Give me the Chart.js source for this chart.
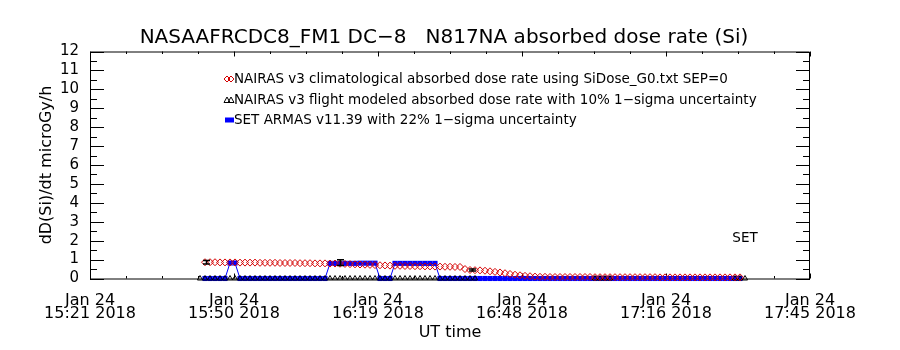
<!DOCTYPE html>
<html>
<head>
<meta charset="utf-8">
<script src="https://cdn.jsdelivr.net/npm/chart.js@4/dist/chart.umd.min.js"></script>
<style>
  body { margin: 0; background: #fff; }
</style>
</head>
<body>
<canvas id="doseChart" width="900" height="350"></canvas>
<script>
// DATA (x in minutes after 15:21 UT, Jan 24 2018)
const xTickMinutes = [0, 28.8, 57.6, 86.4, 115.2, 144];
const xTickDates = ["Jan 24", "Jan 24", "Jan 24", "Jan 24", "Jan 24", "Jan 24"];
const xTickTimes = ["15:21 2018", "15:50 2018", "16:19 2018", "16:48 2018", "17:16 2018", "17:45 2018"];

const sampleMinutes = [
    23, 24, 25, 26, 27, 28, 29,
    30, 31, 32, 33, 34, 35, 36, 37, 38, 39,
    40, 41, 42, 43, 44, 45, 46, 47, 48, 49,
    50, 51, 52, 53, 54, 55, 56, 57, 58, 59,
    60, 61, 62, 63, 64, 65, 66, 67, 68, 69,
    70, 71, 72, 73, 74, 75, 76, 77, 78, 79,
    80, 81, 82, 83, 84, 85, 86, 87, 88, 89,
    90, 91, 92, 93, 94, 95, 96, 97, 98, 99,
    100, 101, 102, 103, 104, 105, 106, 107, 108, 109,
    110, 111, 112, 113, 114, 115, 116, 117, 118, 119,
    120, 121, 122, 123, 124, 125, 126, 127, 128, 129, 130
];

// NAIRAS v3 climatological
const nairasClimDose = [
    0.86, 0.86, 0.86, 0.85, 0.85, 0.85, 0.85,
    0.84, 0.84, 0.84, 0.84, 0.83, 0.83, 0.83, 0.83, 0.82, 0.82,
    0.82, 0.82, 0.81, 0.81, 0.81, 0.80, 0.80, 0.80, 0.79, 0.79,
    0.78, 0.77, 0.76, 0.75, 0.74, 0.73, 0.72, 0.71, 0.70, 0.69,
    0.68, 0.67, 0.67, 0.66, 0.66, 0.65, 0.65, 0.64, 0.64, 0.63,
    0.63, 0.62, 0.62, 0.61, 0.61, 0.50, 0.45, 0.44, 0.43, 0.41,
    0.38, 0.35, 0.32, 0.28, 0.24, 0.20, 0.17, 0.14, 0.12, 0.10,
    0.09, 0.09, 0.08, 0.08, 0.08, 0.08, 0.08, 0.08, 0.08, 0.08,
    0.08, 0.07, 0.07, 0.07, 0.07, 0.07, 0.07, 0.07, 0.07, 0.07,
    0.07, 0.07, 0.07, 0.07, 0.06, 0.06, 0.06, 0.06, 0.06, 0.06,
    0.06, 0.06, 0.06, 0.06, 0.06, 0.06, 0.06, 0.06, 0.06, 0.06, 0.06
];

// SET ARMAS v11.39
const armasDose = [
    0, 0, 0, 0, 0, 0.82, 0.82,
    0, 0, 0, 0, 0, 0, 0, 0, 0, 0,
    0, 0, 0, 0, 0, 0, 0, 0, 0.80, 0.80,
    0.80, 0.80, 0.80, 0.80, 0.81, 0.81, 0.81, 0.81, 0, 0,
    0, 0.80, 0.80, 0.80, 0.80, 0.80, 0.80, 0.80, 0.80, 0.80,
    0, 0, 0, 0, 0, 0, 0, 0, 0, 0,
    0, 0, 0, 0, 0, 0, 0, 0, 0, 0,
    0, 0, 0, 0, 0, 0, 0, 0, 0, 0,
    0, 0, 0, 0, 0, 0, 0, 0, 0, 0,
    0, 0, 0, 0, 0, 0, 0, 0, 0, 0,
    0, 0, 0, 0, 0, 0, 0, 0, 0, 0, 0
];

// NAIRAS v3 flight modeled
const flightMinutes = [
    22, 23, 24, 25, 26, 27, 28, 29, 30, 31, 32, 33, 34, 35, 36, 37, 38, 39,
    40, 41, 42, 43, 44, 45, 46, 47, 48, 49, 50, 51, 52, 53, 54, 55, 56, 57,
    58, 59, 60, 61, 62, 63, 64, 65, 66, 67, 68, 69, 70, 71, 72, 73, 74, 75,
    76, 77, 101, 102, 103, 104, 129, 130, 131
];
const flightDose = [
    0, 0, 0, 0, 0, 0, 0, 0, 0, 0, 0, 0, 0, 0, 0, 0, 0, 0,
    0, 0, 0, 0, 0, 0, 0, 0, 0, 0, 0, 0, 0, 0, 0, 0, 0, 0,
    0, 0, 0, 0, 0, 0, 0, 0, 0, 0, 0, 0, 0, 0, 0, 0, 0, 0,
    0, 0, 0, 0, 0, 0, 0, 0, 0
];
const flightErrMinutes = [23.2, 50, 76.4];
const flightErrDose = [0.86, 0.84, 0.45];
const flightErrSigma = [0.09, 0.15, 0.05];

const chartTitle = "NASAAFRCDC8_FM1 DC\u22128   N817NA absorbed dose rate (Si)";
const legendLabels = [
    "NAIRAS v3 climatological absorbed dose rate using SiDose_G0.txt SEP=0",
    "NAIRAS v3 flight modeled absorbed dose rate with 10% 1\u2212sigma uncertainty",
    "SET ARMAS v11.39 with 22% 1\u2212sigma uncertainty"
];

const FONT = "'DejaVu Sans', sans-serif";

function toPoints(xs, ys) {
    return xs.map((x, i) => ({ x: x, y: ys[i] }));
}

// AXIS BOX WITH INWARD TICKS
const frameTicks = {
    id: "frameTicks",
    beforeDatasetsDraw(chart) {
        const { ctx, chartArea: a, scales: { x, y } } = chart;
        ctx.save();
        ctx.strokeStyle = "#000";
        ctx.lineWidth = 1;
        ctx.beginPath();
        ctx.rect(a.left + 0.5, a.top + 0.5, a.width - 1, a.height);

        for (let v = 0; v <= 12; v += 0.5) {
            const py = Math.round(y.getPixelForValue(v)) + 0.5;
            const len = v % 1 === 0 ? 14 : 7;
            ctx.moveTo(a.left, py);
            ctx.lineTo(a.left + len, py);
            ctx.moveTo(a.right, py);
            ctx.lineTo(a.right - len, py);
        }

        const step = (xTickMinutes[1] - xTickMinutes[0]) / 4;
        xTickMinutes.forEach((m, i) => {
            for (let k = 0; k < 4; k++) {
                if (k > 0 && i === xTickMinutes.length - 1) break;
                const px = Math.round(x.getPixelForValue(m + k * step)) + 0.5;
                const len = k === 0 ? 5 : 2.5;
                ctx.moveTo(px, a.bottom);
                ctx.lineTo(px, a.bottom - len);
                ctx.moveTo(px, a.top);
                ctx.lineTo(px, a.top + len);
            }
        });
        ctx.stroke();
        ctx.restore();
    }
};

// TITLE, ERROR BARS, LEGEND AND "SET" LABEL
const overlay = {
    id: "overlay",
    afterDatasetsDraw(chart) {
        const { ctx, scales: { x, y } } = chart;
        ctx.save();
        ctx.strokeStyle = "#000";
        ctx.lineWidth = 1.5;
        ctx.beginPath();
        flightErrMinutes.forEach((m, i) => {
            const px = Math.round(x.getPixelForValue(m)) + 0.5;
            const yHi = y.getPixelForValue(flightErrDose[i] + flightErrSigma[i]);
            const yLo = y.getPixelForValue(flightErrDose[i] - flightErrSigma[i]);
            ctx.moveTo(px, yHi);
            ctx.lineTo(px, yLo);
            ctx.moveTo(px - 3.5, yHi);
            ctx.lineTo(px + 3.5, yHi);
            ctx.moveTo(px - 3.5, yLo);
            ctx.lineTo(px + 3.5, yLo);
        });
        ctx.stroke();
        ctx.restore();
    },
    afterDraw(chart) {
        const ctx = chart.ctx;
        const rowsY = [79, 100, 120];
        const textX = 234;

        ctx.save();

        ctx.fillStyle = "#000";
        ctx.font = "20px " + FONT;
        ctx.textAlign = "center";
        ctx.textBaseline = "middle";
        ctx.fillText(chartTitle, 444, 38);

        ctx.lineWidth = 1;

        // diamonds
        ctx.strokeStyle = "#d40000";
        [227, 231].forEach((cx) => {
            ctx.beginPath();
            ctx.moveTo(cx, rowsY[0] - 3);
            ctx.lineTo(cx + 3, rowsY[0]);
            ctx.lineTo(cx, rowsY[0] + 3);
            ctx.lineTo(cx - 3, rowsY[0]);
            ctx.closePath();
            ctx.stroke();
        });

        // triangles
        ctx.strokeStyle = "#000";
        [227, 231].forEach((cx) => {
            ctx.beginPath();
            ctx.moveTo(cx, rowsY[1] - 3);
            ctx.lineTo(cx + 3, rowsY[1] + 2.5);
            ctx.lineTo(cx - 3, rowsY[1] + 2.5);
            ctx.closePath();
            ctx.stroke();
        });

        // blue block
        ctx.fillStyle = "#0000ff";
        ctx.fillRect(225, rowsY[2] - 2.5, 9, 5);

        ctx.fillStyle = "#000";
        ctx.font = "13.5px " + FONT;
        ctx.textAlign = "left";
        legendLabels.forEach((label, i) => {
            ctx.fillText(label, textX, rowsY[i]);
        });

        ctx.textAlign = "center";
        ctx.fillText("SET", 745, 238);
        ctx.restore();
    }
};

new Chart(document.getElementById("doseChart"), {
    type: "scatter",
    data: {
        datasets: [
            {
                label: legendLabels[0],
                data: toPoints(sampleMinutes, nairasClimDose),
                showLine: false,
                pointStyle: "rectRot",
                pointRadius: 3.5,
                pointBorderColor: "#d40000",
                pointBackgroundColor: "rgba(0,0,0,0)",
                pointBorderWidth: 1,
                order: 0,
                clip: false
            },
            {
                label: legendLabels[1],
                data: toPoints(flightMinutes, flightDose),
                showLine: false,
                pointStyle: "triangle",
                pointRadius: 3,
                pointBorderColor: "#000",
                pointBackgroundColor: "rgba(0,0,0,0)",
                pointBorderWidth: 1,
                order: 1,
                clip: false
            },
            {
                label: legendLabels[2],
                data: toPoints(sampleMinutes, armasDose),
                showLine: true,
                borderColor: "#0000ff",
                borderWidth: 1,
                tension: 0,
                pointStyle: "rect",
                pointRadius: 3.6,
                pointBorderWidth: 0,
                pointBackgroundColor: "#0000ff",
                pointBorderColor: "#0000ff",
                order: 2,
                clip: false
            }
        ]
    },
    options: {
        responsive: false,
        animation: false,
        devicePixelRatio: 1,
        layout: {
            padding: { left: 0, right: 90, top: 51.5, bottom: 0 }
        },
        plugins: {
            legend: { display: false },
            tooltip: { enabled: false },
            title: { display: false }
        },
        scales: {
            x: {
                type: "linear",
                min: 0,
                max: 144,
                grid: { display: false },
                border: { display: false },
                afterBuildTicks: (scale) => {
                    scale.ticks = xTickMinutes.map((v) => ({ value: v }));
                },
                afterFit: (scale) => {
                    scale.height = 71.5;
                },
                ticks: {
                    autoSkip: false,
                    maxRotation: 0,
                    minRotation: 0,
                    padding: 8,
                    color: "#000",
                    font: { family: FONT, size: 16, lineHeight: 0.8 },
                    callback: (value, index) => [xTickDates[index], xTickTimes[index]]
                },
                title: {
                    display: true,
                    text: "UT time",
                    color: "#000",
                    font: { family: FONT, size: 16 },
                    padding: { top: 0, bottom: 8 }
                }
            },
            y: {
                min: 0,
                max: 12,
                grid: { display: false },
                border: { display: false },
                afterFit: (scale) => {
                    scale.width = 90;
                },
                ticks: {
                    stepSize: 1,
                    autoSkip: false,
                    padding: 3,
                    color: "#000",
                    font: { family: FONT, size: 15 }
                },
                title: {
                    display: true,
                    text: "dD(Si)/dt microGy/h",
                    color: "#000",
                    font: { family: FONT, size: 16 },
                    padding: { top: 37, bottom: 0 }
                }
            }
        }
    },
    plugins: [frameTicks, overlay]
});
</script>
</body>
</html>
